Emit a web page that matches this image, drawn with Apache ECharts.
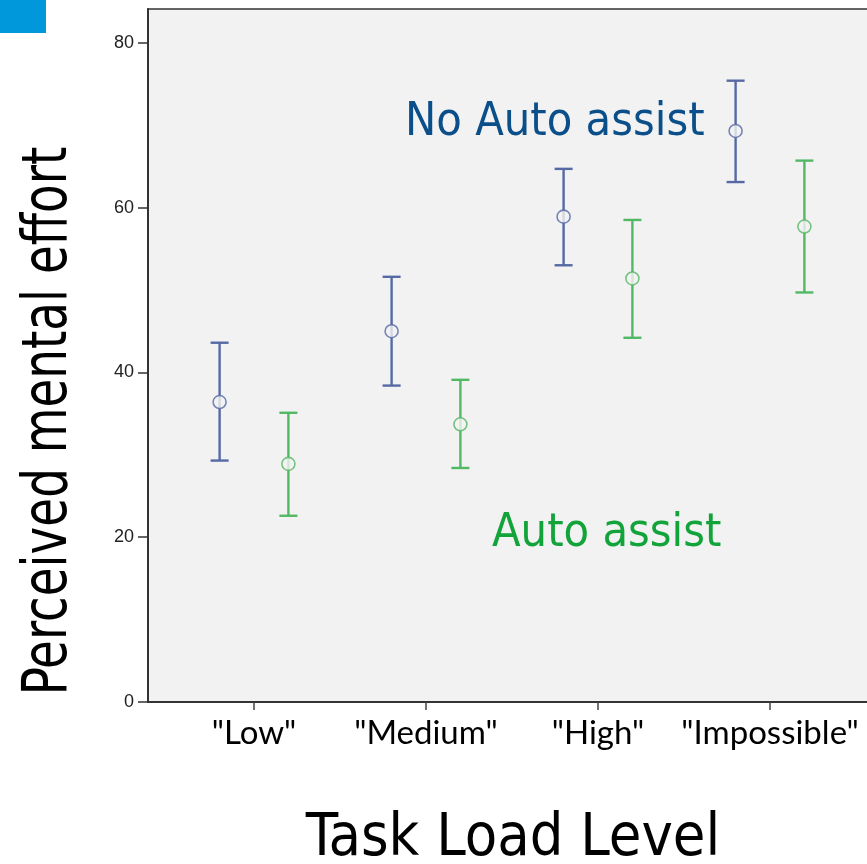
<!DOCTYPE html>
<html>
<head>
<meta charset="utf-8">
<script src="https://cdn.jsdelivr.net/npm/echarts@6/dist/echarts.min.js"></script>
<style>
  html, body { margin: 0; padding: 0; background: #ffffff; }
  #chart { width: 867px; height: 864px; }
</style>
</head>
<body>
<div id="chart"></div>
<script>
// Task load levels on the x axis
const categories = ['"Low"', '"Medium"', '"High"', '"Impossible"'];

// Mean perceived mental effort with error-bar limits, without auto assist
const noAssistMean  = [36.4, 45.0, 58.9, 69.3];
const noAssistLow   = [29.3, 38.4, 53.0, 63.1];
const noAssistHigh  = [43.6, 51.6, 64.7, 75.4];

// Same measures with auto assist
const assistMean  = [28.9, 33.7, 51.4, 57.7];
const assistLow   = [22.6, 28.4, 44.2, 49.7];
const assistHigh  = [35.1, 39.1, 58.5, 65.7];

// y-axis tick values
const yTicks = [0, 20, 40, 60, 80];

const BLUE = '#5669a3';
const GREEN = '#52b864';
const SHIFT = 0.2; // horizontal offset of each group inside a category

function points(mean, lo, hi, shift) {
  return mean.map((m, i) => [i + 1 + shift, m, lo[i], hi[i]]);
}

function errorBarSeries(data, color) {
  return {
    type: 'custom',
    data: data,
    encode: { x: 0, y: [1, 2, 3] },
    z: 3,
    renderItem: function (params, api) {
      const x = api.value(0);
      const top = api.coord([x, api.value(3)]);
      const bot = api.coord([x, api.value(2)]);
      const half = 9;
      const style = { stroke: color, lineWidth: 2.4 };
      return {
        type: 'group',
        children: [
          { type: 'line', shape: { x1: top[0], y1: top[1], x2: bot[0], y2: bot[1] }, style: style },
          { type: 'line', shape: { x1: top[0] - half, y1: top[1], x2: top[0] + half, y2: top[1] }, style: style },
          { type: 'line', shape: { x1: bot[0] - half, y1: bot[1], x2: bot[0] + half, y2: bot[1] }, style: style }
        ]
      };
    }
  };
}

function meanSeries(data, color) {
  return {
    type: 'scatter',
    data: data.map(d => [d[0], d[1]]),
    symbol: 'circle',
    symbolSize: 13,
    z: 4,
    itemStyle: { color: '#f2f2f2', borderColor: color, borderWidth: 1.6 }
  };
}

const blueData = points(noAssistMean, noAssistLow, noAssistHigh, -SHIFT);
const greenData = points(assistMean, assistLow, assistHigh, SHIFT);

const chart = echarts.init(document.getElementById('chart'));
chart.setOption({
  animation: false,
  backgroundColor: '#ffffff',
  grid: {
    left: 148, top: 9, width: 728, height: 693,
    outerBoundsMode: 'none',
    containLabel: false,
    show: true, backgroundColor: '#f2f2f2', borderColor: '#333333', borderWidth: 1.5
  },
  xAxis: {
    type: 'value',
    min: 0.3837,
    max: 4.6163,
    splitLine: { show: false },
    axisLine: { show: true, onZero: false, lineStyle: { color: '#333333', width: 2 } },
    axisTick: { show: true, customValues: [1, 2, 3, 4], length: 8, lineStyle: { color: '#444444', width: 1.5 } },
    axisLabel: {
      customValues: [1, 2, 3, 4],
      formatter: v => categories[Math.round(v) - 1] || '',
      color: '#000000',
      fontFamily: 'Lato, "Open Sans", sans-serif',
      fontSize: 33,
      margin: 15
    }
  },
  yAxis: {
    type: 'value',
    min: 0,
    max: 84.1,
    splitLine: { show: false },
    axisLine: { show: true, lineStyle: { color: '#333333', width: 2 } },
    axisTick: { show: true, customValues: yTicks, length: 10, lineStyle: { color: '#333333', width: 1.5 } },
    axisLabel: {
      customValues: yTicks,
      formatter: v => String(v),
      color: '#222222',
      fontFamily: '"Liberation Sans", Arial, sans-serif',
      fontSize: 18,
      margin: 14
    }
  },
  series: [
    errorBarSeries(blueData, BLUE),
    meanSeries(blueData, BLUE),
    errorBarSeries(greenData, GREEN),
    meanSeries(greenData, GREEN)
  ],
  graphic: [
    { type: 'rect', left: 0, top: 0, shape: { width: 46, height: 33 }, style: { fill: '#0098da' } },
    {
      type: 'text', x: 50, y: 421, rotation: Math.PI / 2, scaleX: 0.84,
      style: {
        text: 'Perceived mental effort', align: 'center', verticalAlign: 'middle',
        font: '62px "DejaVu Sans Condensed", "DejaVu Sans", sans-serif', fill: '#000000'
      }
    },
    {
      type: 'text', x: 513, y: 840,
      style: {
        text: 'Task Load Level', align: 'center', verticalAlign: 'middle',
        font: '59px "DejaVu Sans Condensed", "DejaVu Sans", sans-serif', fill: '#000000'
      }
    },
    {
      type: 'text', x: 405, y: 123,
      style: {
        text: 'No Auto assist', align: 'left', verticalAlign: 'middle',
        font: '46.5px "DejaVu Sans Condensed", "DejaVu Sans", sans-serif', fill: '#0b4f8a'
      }
    },
    {
      type: 'text', x: 492, y: 534,
      style: {
        text: 'Auto assist', align: 'left', verticalAlign: 'middle',
        font: '46.5px "DejaVu Sans Condensed", "DejaVu Sans", sans-serif', fill: '#12a43a'
      }
    }
  ]
});
</script>
</body>
</html>
